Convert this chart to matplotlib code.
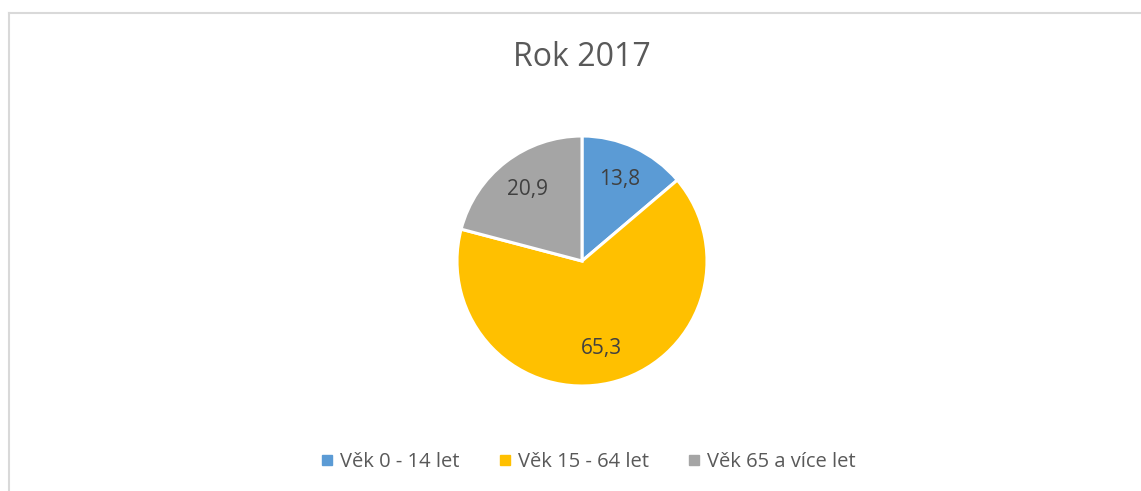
import matplotlib.pyplot as plt
from matplotlib.lines import Line2D

# Age structure, year 2017 (percent)
categories = ['Věk 0 - 14 let', 'Věk 15 - 64 let', 'Věk 65 a více let']
values = [13.8, 65.3, 20.9]
value_labels = ['13,8', '65,3', '20,9']
colors = ['#5B9BD5', '#FFC000', '#A5A5A5']
title = 'Rok 2017'

plt.rcParams['font.family'] = ['Open Sans', 'DejaVu Sans']

W, H = 1141, 491
fig = plt.figure(figsize=(W / 100, H / 100), dpi=100)

# pie centre (582, 261) px, radius 125 px
cx, cy, r = 582, 261, 125
ax = fig.add_axes([(cx - r) / W, (H - cy - r) / H, 2 * r / W, 2 * r / H])
wedges, texts = ax.pie(values, labels=value_labels, colors=colors, startangle=90,
                       counterclock=False, labeldistance=0.72,
                       wedgeprops=dict(edgecolor='white', linewidth=2.2),
                       textprops=dict(color='#404040', fontsize=15, ha='center', va='center'))
ax.set_xlim(-1, 1)
ax.set_ylim(-1, 1)
ax.axis('off')

fig.text(cx / W, 1 - 57 / H, title, ha='center', va='center', fontsize=23, color='#595959')

handles = [Line2D([], [], marker='s', linestyle='none', markersize=7,
                  markerfacecolor=c, markeredgecolor=c) for c in colors]
fig.legend(handles, categories, loc='center', bbox_to_anchor=(588 / W, 1 - 462 / H),
           ncol=3, frameon=False, fontsize=14.5, handletextpad=0.3, columnspacing=1.9,
           labelcolor='#595959', handlelength=0.7)

# chart area border (only top and left visible)
fig.add_artist(Line2D([8.5 / W, 1], [1 - 13 / H, 1 - 13 / H], color='#D9D9D9', linewidth=1.5))
fig.add_artist(Line2D([8.5 / W, 8.5 / W], [0, 1 - 13 / H], color='#D9D9D9', linewidth=1.5))

fig.savefig('out.png', dpi=100, facecolor='white')
